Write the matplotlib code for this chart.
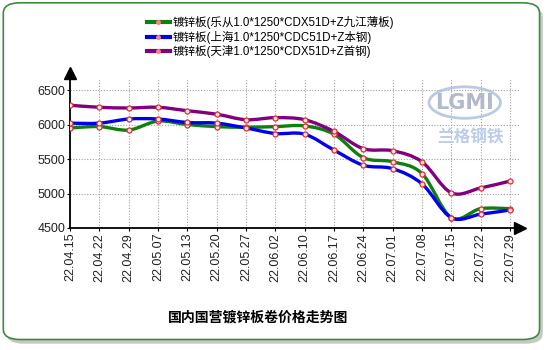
import matplotlib
matplotlib.use('Agg')
import matplotlib.pyplot as plt
import numpy as np
from matplotlib.path import Path
from matplotlib.patches import PathPatch, FancyBboxPatch, Ellipse
from matplotlib.lines import Line2D

plt.rcParams['font.family'] = ['Noto Sans CJK SC', 'DejaVu Sans']

dates = ['22.04.15', '22.04.22', '22.04.29', '22.05.07', '22.05.13', '22.05.20',
         '22.05.27', '22.06.02', '22.06.10', '22.06.17', '22.06.24', '22.07.01',
         '22.07.08', '22.07.15', '22.07.22', '22.07.29']
names = ['镀锌板(乐从1.0*1250*CDX51D+Z九江薄板)',
         '镀锌板(上海1.0*1250*CDC51D+Z本钢)',
         '镀锌板(天津1.0*1250*CDX51D+Z首钢)']
lecong = [5950, 5970, 5920, 6050, 6000, 5970, 5960, 5970,
          5980, 5860, 5520, 5460, 5290, 4650, 4780, 4780]
shanghai = [6020, 6020, 6080, 6080, 6030, 6020, 5950, 5870,
            5860, 5630, 5410, 5360, 5140, 4650, 4700, 4760]
tianjin = [6280, 6250, 6240, 6250, 6200, 6150, 6070, 6100,
           6070, 5900, 5650, 5620, 5460, 5010, 5080, 5180]
colors = ['#0f7f0f', '#0000f0', '#800080']


def smooth_path(xs, ys):
    # catmull-rom style bezier through the points
    pts = np.column_stack([xs, ys]).astype(float)
    verts = [pts[0]]
    codes = [Path.MOVETO]
    n = len(pts)
    for i in range(n - 1):
        p0 = pts[max(i - 1, 0)]
        p1 = pts[i]
        p2 = pts[i + 1]
        p3 = pts[min(i + 2, n - 1)]
        c1 = p1 + (p2 - p0) / 6.0
        c2 = p2 - (p3 - p1) / 6.0
        verts += [c1, c2, p2]
        codes += [Path.CURVE4] * 3
    return Path(verts, codes)


fig = plt.figure(figsize=(5.5, 3.5), dpi=100)

# rounded frame with shadow
shadow = FancyBboxPatch((0.012, 0.018), 0.975, 0.962, boxstyle='round,pad=0,rounding_size=0.03',
                        transform=fig.transFigure, facecolor='#c8c8c8', edgecolor='none', zorder=-2)
frame = FancyBboxPatch((0.006, 0.03), 0.975, 0.962, boxstyle='round,pad=0,rounding_size=0.03',
                       transform=fig.transFigure, facecolor='white', edgecolor='#3c8c3c',
                       linewidth=1.2, zorder=-1)
fig.patches.extend([shadow, frame])

ax = fig.add_axes([0.1273, 0.3486, 0.818, 0.4286])
ax.patch.set_alpha(0)

x = np.arange(len(dates))
series = [lecong, shanghai, tianjin]
for vals, c in zip(series, colors):
    ax.add_patch(PathPatch(smooth_path(x, vals), facecolor='none', edgecolor=c,
                           linewidth=2.4, zorder=3))
    ax.plot(x, vals, linestyle='none', marker='o', markersize=3.6,
            markerfacecolor='#f8e4e4', markeredgecolor='#e03030', markeredgewidth=0.9, zorder=4)

ax.set_xlim(0, 15.34)
ax.set_ylim(4500, 6675)
ax.set_xticks(x)
ax.set_xticklabels(dates, rotation=90, family='Liberation Sans', fontsize=9, color='#222222')
ax.set_yticks([4500, 5000, 5500, 6000, 6500])
ax.set_yticklabels(['4500', '5000', '5500', '6000', '6500'], family='Liberation Sans', fontsize=9,
                   color='#222222')
ax.tick_params(axis='both', length=2, pad=1.5)
ax.grid(True, color='#a0a0a0', linestyle=(0, (1, 1.5)), linewidth=0.8)
ax.set_axisbelow(True)
for s in ['top', 'right']:
    ax.spines[s].set_visible(False)
for s in ['left', 'bottom']:
    ax.spines[s].set_linewidth(1.3)

# axis arrows
ax.plot([1.0], [0], marker='>', markersize=8, color='black', transform=ax.transAxes, clip_on=False)
ax.plot([0], [1.03], marker='^', markersize=8, color='black', transform=ax.transAxes, clip_on=False)

# watermark
fig.patches.append(Ellipse((0.845, 0.707), 0.13, 0.09, transform=fig.transFigure,
                           facecolor='none', edgecolor='#a9bddc', linewidth=2, alpha=0.8))
fig.text(0.845, 0.707, 'LGMI', ha='center', va='center', fontsize=15, fontweight='bold',
         color='#b0bacb', family='DejaVu Sans')
fig.text(0.855, 0.607, '兰格钢铁', ha='center', va='center', fontsize=12, fontweight='bold',
         color='#bccdea')

handles = [Line2D([0], [0], color=c, linewidth=3, marker='o', markersize=2.5,
                  markerfacecolor='#ff8080', markeredgecolor='#ff8080') for c in colors]
fig.legend(handles, names, loc='upper left', bbox_to_anchor=(0.258, 0.968), frameon=False,
           handlelength=2.0, handletextpad=0.3, labelspacing=0.15, borderaxespad=0,
           prop={'family': ['Liberation Sans', 'Noto Sans CJK SC'], 'size': 8.3})

fig.text(0.47, 0.092, '国内国营镀锌板卷价格走势图', ha='center', va='center',
         fontsize=10, fontweight='bold', color='black')

fig.savefig('out.png', dpi=100)
